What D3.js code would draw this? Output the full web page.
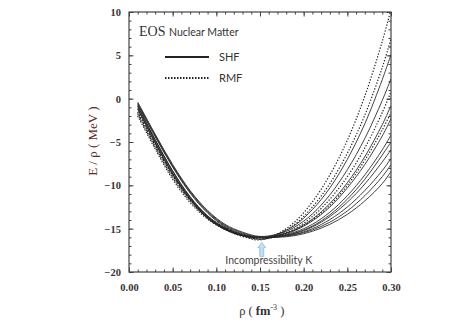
<!DOCTYPE html>
<html>
<head>
<meta charset="utf-8">
<script src="https://cdn.jsdelivr.net/npm/d3@7"></script>
<style>
  body { margin: 0; background: #fff; }
  svg { display: block; }
</style>
</head>
<body>
<svg id="svgx"></svg>
<script>
// density grid (fm^-3)
const rho = [0.01, 0.03, 0.05, 0.07, 0.09, 0.11, 0.13, 0.15, 0.17, 0.19, 0.21, 0.23, 0.25, 0.27, 0.29, 0.30];

// E/rho (MeV) per parametrisation
const rmf1 = [-2.0, -5.8, -9.3, -12.0, -13.9, -15.1, -15.9, -16.3, -15.6, -14.2, -11.9, -8.8, -4.8, 0.3, 6.6, 10.3];
const rmf2 = [-1.6, -5.4, -8.9, -11.7, -13.7, -15.0, -15.8, -16.2, -15.7, -14.5, -12.5, -9.8, -6.3, -1.9, 3.6, 6.9];
const rmf3 = [-1.8, -5.6, -9.1, -11.8, -13.8, -15.0, -15.8, -16.2, -15.8, -15.0, -13.6, -11.6, -9.0, -5.7, -1.6, 0.8];
const rmf4 = [-1.5, -5.3, -8.8, -11.6, -13.6, -14.9, -15.7, -16.2, -15.9, -15.2, -14.0, -12.3, -10.0, -7.1, -3.6, -1.6];

const shf1 = [-0.4, -4.1, -7.6, -10.6, -12.9, -14.5, -15.4, -15.9, -15.6, -14.6, -12.8, -10.3, -7.0, -2.9, 2.2, 5.1];
const shf2 = [-0.8, -4.7, -8.3, -11.3, -13.5, -14.9, -15.7, -15.95, -15.7, -14.8, -13.3, -11.1, -8.2, -4.6, -0.2, 2.3];
const shf3 = [-1.2, -5.1, -8.7, -11.6, -13.8, -15.1, -15.8, -16.0, -15.8, -15.1, -13.9, -12.1, -9.7, -6.7, -3.0, -0.8];
const shf4 = [-0.5, -4.2, -7.7, -10.7, -13.0, -14.6, -15.5, -16.0, -15.8, -15.2, -14.1, -12.5, -10.3, -7.6, -4.3, -2.3];
const shf5 = [-0.9, -4.8, -8.4, -11.4, -13.6, -15.0, -15.8, -16.05, -15.9, -15.4, -14.5, -13.1, -11.2, -8.8, -5.9, -4.2];
const shf6 = [-1.1, -5.0, -8.6, -11.5, -13.7, -15.0, -15.8, -16.0, -15.9, -15.5, -14.7, -13.4, -11.6, -9.3, -6.5, -5.0];
const shf7 = [-0.6, -4.3, -7.8, -10.8, -13.1, -14.7, -15.6, -16.0, -15.9, -15.55, -14.8, -13.6, -11.95, -9.85, -7.3, -5.9];
const shf8 = [-0.9, -4.8, -8.4, -11.4, -13.6, -15.0, -15.8, -16.05, -15.95, -15.65, -15.0, -13.95, -12.5, -10.6, -8.3, -6.9];
const shf9 = [-1.2, -5.1, -8.7, -11.6, -13.8, -15.1, -15.8, -16.0, -15.95, -15.7, -15.15, -14.25, -12.95, -11.2, -9.0, -7.6];
const shf10 = [-0.7, -4.4, -7.9, -10.9, -13.2, -14.8, -15.7, -16.0, -16.0, -15.8, -15.3, -14.5, -13.35, -11.8, -9.8, -8.4];

const curves = [
  { model: "SHF", values: shf1 }, { model: "SHF", values: shf2 }, { model: "SHF", values: shf3 },
  { model: "SHF", values: shf4 }, { model: "SHF", values: shf5 }, { model: "SHF", values: shf6 },
  { model: "SHF", values: shf7 }, { model: "SHF", values: shf8 }, { model: "SHF", values: shf9 },
  { model: "SHF", values: shf10 },
  { model: "RMF", values: rmf1 }, { model: "RMF", values: rmf2 },
  { model: "RMF", values: rmf3 }, { model: "RMF", values: rmf4 }
];

const xTicks = [0.00, 0.05, 0.10, 0.15, 0.20, 0.25, 0.30];
const yTicks = [-20, -15, -10, -5, 0, 5, 10];
const legendItems = ["SHF", "RMF"];
const kArrowRho = 0.152;

var margin = { top: 12, right: 83, bottom: 53, left: 129 };
var widthA = 474, heightA = 325;
const innerWidth = widthA - margin.left - margin.right;
const innerHeight = heightA - margin.top - margin.bottom;
const serif = "'Liberation Serif', 'DejaVu Serif', serif";
const sans = "Lato, 'Open Sans', sans-serif";

var svg = d3.select('#svgx')
  .attr("width", widthA)
  .attr("height", heightA);

var g = svg.append('g')
  .attr('transform', `translate(${margin.left},${margin.top})`);

//******************************** scales
var xScale = d3.scaleLinear().domain([0, 0.30]).range([0, innerWidth]);
var yScale = d3.scaleLinear().domain([-20, 10]).range([innerHeight, 0]);

g.append("clipPath").attr("id", "clip")
  .append("rect").attr("width", innerWidth).attr("height", innerHeight);

//******************************** axes (ticks inward on all four sides)
const minorX = d3.range(0, 31).map(i => i / 100);
const minorY = d3.range(-20, 11);
const axColor = "#444";

function styleAxis(sel) {
  sel.select('.domain').remove();
  sel.selectAll('line').attr('stroke', axColor).attr('stroke-width', 1);
}
// tick-only axes: drop the empty labels
function ticksOnly(sel) {
  styleAxis(sel);
  sel.selectAll('text').remove();
}
// labelled axes: serif, bold-ish numbers
function labelAxis(sel) {
  styleAxis(sel);
  sel.attr('font-family', serif).attr('font-size', 10.5).attr('font-weight', 'bold');
  sel.selectAll('text').attr('fill', '#3a3232');
}

// bottom
g.append('g').attr('transform', `translate(0,${innerHeight})`)
  .call(d3.axisBottom(xScale).tickValues(minorX).tickSize(-2.5))
  .call(ticksOnly);
g.append('g').attr('transform', `translate(0,${innerHeight})`)
  .call(d3.axisBottom(xScale).tickValues(xTicks).tickSize(-4.5).tickPadding(12).tickFormat(d3.format('.2f')))
  .call(labelAxis);
// top
g.append('g')
  .call(d3.axisTop(xScale).tickValues(minorX).tickSize(-2.5))
  .call(ticksOnly);
g.append('g')
  .call(d3.axisTop(xScale).tickValues(xTicks).tickSize(-4.5))
  .call(ticksOnly);
// left
g.append('g')
  .call(d3.axisLeft(yScale).tickValues(minorY).tickSize(-2.5))
  .call(ticksOnly);
g.append('g')
  .call(d3.axisLeft(yScale).tickValues(yTicks).tickSize(-4.5).tickPadding(8).tickFormat(d3.format('d')))
  .call(labelAxis);
// right
g.append('g').attr('transform', `translate(${innerWidth},0)`)
  .call(d3.axisRight(yScale).tickValues(minorY).tickSize(-2.5))
  .call(ticksOnly);
g.append('g').attr('transform', `translate(${innerWidth},0)`)
  .call(d3.axisRight(yScale).tickValues(yTicks).tickSize(-4.5))
  .call(ticksOnly);

// frame
g.append('rect')
  .attr('width', innerWidth).attr('height', innerHeight)
  .attr('fill', 'none').attr('stroke', axColor).attr('stroke-width', 1.2);

//******************************** curves
const line = d3.line()
  .x((d, i) => xScale(rho[i]))
  .y(d => yScale(d))
  .curve(d3.curveCatmullRom.alpha(0.5));

g.append('g').attr('clip-path', 'url(#clip)')
  .selectAll('.eos')
  .data(curves)
  .enter()
  .append('path')
  .attr('class', 'eos')
  .attr('d', d => line(d.values))
  .attr('fill', 'none')
  .attr('stroke', d => d.model === "SHF" ? "#2e2e2e" : "#222")
  .attr('stroke-width', d => d.model === "SHF" ? 0.9 : 1.2)
  .attr('stroke-dasharray', d => d.model === "SHF" ? null : "1.3,1.7");

//******************************** legend
g.append('text')
  .attr('x', 10).attr('y', 24)
  .text('EOS')
  .attr('font-family', serif).attr('font-size', 14)
  .attr('fill', '#333');
g.append('text')
  .attr('x', 40).attr('y', 24)
  .text('Nuclear Matter')
  .attr('font-family', sans).attr('font-size', 10.5)
  .attr('fill', '#333');

var legend = g.selectAll('g.legend')
  .data(legendItems)
  .enter()
  .append('g')
  .attr('class', 'legend')
  .attr('transform', (d, i) => `translate(36, ${45 + i * 21})`);

legend.append('line')
  .attr('x1', 0).attr('x2', 44)
  .attr('stroke', '#222')
  .attr('stroke-width', d => d === "SHF" ? 2 : 1.8)
  .attr('stroke-dasharray', d => d === "SHF" ? null : "1.5,1.5");

legend.append('text')
  .attr('x', 54).attr('y', 4)
  .text(d => d)
  .attr('font-family', sans).attr('font-size', 11)
  .attr('fill', '#333');

//******************************** incompressibility arrow
const ax = xScale(kArrowRho);
const aTop = yScale(-16.6), aBot = yScale(-18.2);
g.append('path')
  .attr('d', `M ${ax} ${aTop} L ${ax + 4} ${aTop + 5} L ${ax + 2} ${aTop + 5} L ${ax + 2} ${aBot} L ${ax - 2} ${aBot} L ${ax - 2} ${aTop + 5} L ${ax - 4} ${aTop + 5} Z`)
  .attr('fill', '#c4def2')
  .attr('stroke', '#8dbde3')
  .attr('stroke-width', 0.8);

g.append('text')
  .attr('x', ax + 7).attr('y', yScale(-19.05))
  .attr('text-anchor', 'middle')
  .text('Incompressibility K')
  .attr('font-family', sans).attr('font-size', 10.5)
  .attr('fill', '#444');

//******************************** axis titles
g.append('g')
  .attr('transform', `translate(-32,${yScale(-4.9)})`)
  .append('text')
  .attr('transform', 'rotate(-90)')
  .attr('text-anchor', 'middle')
  .attr('font-family', serif).attr('font-size', 13)
  .attr('fill', '#5a2a2a')
  .text('E / ρ  ( MeV )');

var xt = g.append('text')
  .attr('x', xScale(0.152)).attr('y', innerHeight + 43)
  .attr('text-anchor', 'middle')
  .attr('font-family', serif).attr('font-size', 12.5)
  .attr('fill', '#333');
xt.append('tspan').text('ρ  ( ');
xt.append('tspan').attr('font-weight', 'bold').text('fm');
xt.append('tspan').attr('dy', -5).attr('font-size', 8).text('-3');
xt.append('tspan').attr('dy', 5).text(' )');
</script>
</body>
</html>
